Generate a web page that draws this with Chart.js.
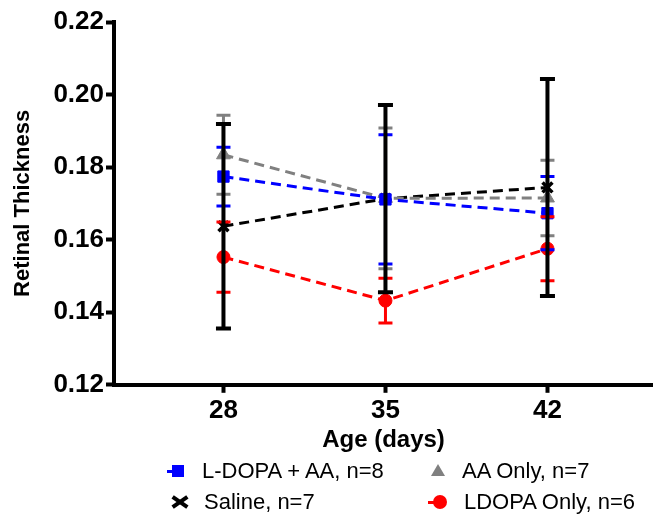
<!DOCTYPE html>
<html>
<head>
<meta charset="utf-8">
<script src="https://cdn.jsdelivr.net/npm/chart.js@4"></script>
<style>
  body { margin: 0; background: #fff; }
  #wrap { position: relative; width: 653px; height: 514px; }
  #legend { position: absolute; left: 0; top: 0; width: 653px; height: 514px; font: 22px "Liberation Sans", Arial, sans-serif; color: #000; pointer-events: none; }
  .item { position: absolute; height: 26px; line-height: 26px; white-space: nowrap; }
  .mk { position: absolute; top: 13px; }
</style>
</head>
<body>
<div id="wrap">
  <canvas id="chart" width="653" height="514"></canvas>
  <div id="legend"></div>
</div>
<script>
const FONT = '"Liberation Sans", Arial, sans-serif';

const ages = [28, 35, 42];
const xTicks = [28, 35, 42];
const yTicks = [0.12, 0.14, 0.16, 0.18, 0.20, 0.22];

const seriesNames = ['L-DOPA + AA, n=8', 'AA Only, n=7', 'Saline, n=7', 'LDOPA Only, n=6'];

const ldopaAaMean = [0.1774, 0.1711, 0.1673];
const ldopaAaErr = [0.0081, 0.0178, 0.0101];
const aaOnlyMean = [0.1834, 0.1714, 0.1715];
const aaOnlyErr = [0.0109, 0.0194, 0.0104];
const salineMean = [0.1637, 0.1713, 0.1744];
const salineErr = [0.0282, 0.0258, 0.0299];
const ldopaOnlyMean = [0.1552, 0.1432, 0.1575];
const ldopaOnlyErr = [0.0097, 0.0062, 0.0088];

const toPoints = (means) => ages.map((a, i) => ({ x: a, y: means[i] }));

const makeSet = (label, means, errors, color, pointStyle, radius, extra = {}) => ({
  label,
  data: toPoints(means),
  errors,
  borderColor: color,
  backgroundColor: color,
  pointBackgroundColor: color,
  pointBorderColor: color,
  borderWidth: 3,
  borderDash: [10, 6],
  pointStyle,
  pointRadius: radius,
  pointBorderWidth: 1,
  fill: false,
  tension: 0,
  ...extra,
});

const datasets = [
  makeSet(seriesNames[0], ldopaAaMean, ldopaAaErr, '#0000ff', 'rect', 8, { errWidth: 3, capHalf: 7 }),
  makeSet(seriesNames[1], aaOnlyMean, aaOnlyErr, '#808080', 'triangle', 8, { errWidth: 3, capHalf: 7 }),
  makeSet(seriesNames[2], salineMean, salineErr, '#000000', 'crossRot', 7, { pointBorderWidth: 3.5, errWidth: 4, capHalf: 7.5 }),
  makeSet(seriesNames[3], ldopaOnlyMean, ldopaOnlyErr, '#ff0000', 'circle', 6.5, { errWidth: 3, capHalf: 7 }),
];

// error bars drawn from the same scales as the points, saline last so it sits on top
const errorBars = {
  id: 'errorBars',
  afterDatasetsDraw(chart) {
    const { ctx } = chart;
    const x = chart.scales.x;
    const y = chart.scales.y;
    [0, 1, 3, 2].forEach((idx) => {
      const ds = chart.data.datasets[idx];
      ds.data.forEach((pt, j) => {
        const err = ds.errors[j];
        const px = x.getPixelForValue(pt.x);
        const top = y.getPixelForValue(pt.y + err);
        const bot = y.getPixelForValue(pt.y - err);
        ctx.save();
        ctx.strokeStyle = ds.borderColor;
        ctx.lineWidth = ds.errWidth;
        ctx.beginPath();
        ctx.moveTo(px, top);
        ctx.lineTo(px, bot);
        ctx.moveTo(px - ds.capHalf, top);
        ctx.lineTo(px + ds.capHalf, top);
        ctx.moveTo(px - ds.capHalf, bot);
        ctx.lineTo(px + ds.capHalf, bot);
        ctx.stroke();
        ctx.restore();
      });
    });
  },
};

const axisGrid = { display: true, drawOnChartArea: false, drawTicks: true, tickLength: 8, tickWidth: 4, tickColor: '#000' };
const axisBorder = { display: true, color: '#000', width: 4 };

new Chart(document.getElementById('chart').getContext('2d'), {
  type: 'line',
  data: { datasets },
  options: {
    responsive: false,
    animation: false,
    layout: { autoPadding: false, padding: { top: 22, right: 0, bottom: 62, left: 0 } },
    plugins: { legend: { display: false }, tooltip: { enabled: false } },
    scales: {
      x: {
        type: 'linear',
        min: 23.27,
        max: 46.56,
        afterBuildTicks: (s) => { s.ticks = xTicks.map((v) => ({ value: v })); },
        afterFit: (s) => { s.paddingLeft = 0; s.paddingRight = 0; },
        grid: axisGrid,
        border: axisBorder,
        ticks: { color: '#000', font: { family: FONT, size: 26, weight: 'bold' }, padding: 2, maxRotation: 0, autoSkip: false },
        title: { display: true, text: 'Age (days)', color: '#000', font: { family: FONT, size: 24, weight: 'bold', lineHeight: 1.0 }, padding: { top: 0, bottom: 0 } },
      },
      y: {
        min: 0.12,
        max: 0.22,
        afterBuildTicks: (s) => { s.ticks = yTicks.map((v) => ({ value: v })); },
        afterFit: (s) => { s.width = 114; },
        grid: axisGrid,
        border: axisBorder,
        ticks: { color: '#000', font: { family: FONT, size: 26, weight: 'bold' }, padding: 2, callback: (v) => Number(v).toFixed(2) },
        title: { display: true, text: 'Retinal Thickness', color: '#000', font: { family: FONT, size: 22, weight: 'bold' }, padding: { top: 10, bottom: 0 } },
      },
    },
  },
  plugins: [errorBars],
});

// legend laid out as the 2x2 grid of the original figure
const legendSlots = [
  { left: 166, top: 458 },
  { left: 426, top: 458 },
  { left: 168, top: 489 },
  { left: 428, top: 489 },
];

const markerHtml = (ds) => {
  const c = ds.borderColor;
  switch (ds.pointStyle) {
    case 'rect':
      return `<span class="mk" style="left:6px;margin-top:-6px;width:12px;height:12px;background:${c}"></span>`
        + `<span class="mk" style="left:1px;margin-top:-1.5px;width:6px;height:3px;background:${c}"></span>`;
    case 'triangle':
      return `<span class="mk" style="left:5px;margin-top:-7px;width:0;height:0;border-left:7px solid transparent;border-right:7px solid transparent;border-bottom:12px solid ${c}"></span>`;
    case 'crossRot':
      return `<span class="mk" style="left:3px;margin-top:-2px;width:18px;height:4px;background:${c};transform:rotate(35deg)"></span>`
        + `<span class="mk" style="left:3px;margin-top:-2px;width:18px;height:4px;background:${c};transform:rotate(-35deg)"></span>`;
    default:
      return `<span class="mk" style="left:5px;margin-top:-7px;width:14px;height:14px;border-radius:50%;background:${c}"></span>`
        + `<span class="mk" style="left:0;margin-top:-1.5px;width:6px;height:3px;background:${c}"></span>`;
  }
};

document.getElementById('legend').innerHTML = datasets.map((ds, i) => (
  `<div class="item" style="left:${legendSlots[i].left}px;top:${legendSlots[i].top}px">${markerHtml(ds)}<span style="margin-left:36px">${ds.label}</span></div>`
)).join('');
</script>
</body>
</html>
